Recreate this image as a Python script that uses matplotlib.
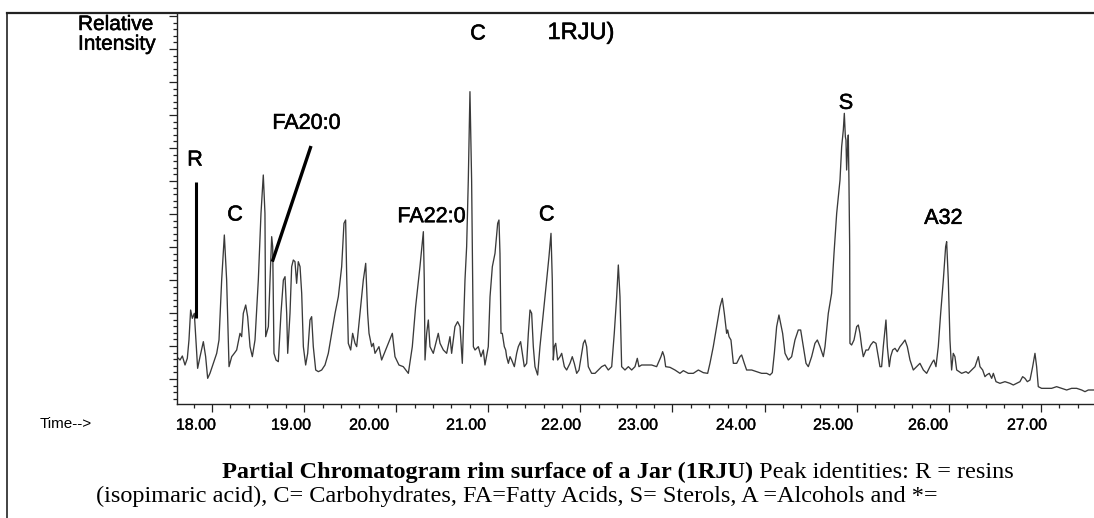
import matplotlib
matplotlib.use("Agg")
import matplotlib.pyplot as plt
import matplotlib.patheffects as pe
from matplotlib.ticker import MultipleLocator, FixedLocator
from matplotlib.lines import Line2D

plt.rcParams['font.family'] = ['Liberation Sans', 'DejaVu Sans']

# trace: retention time (min) and abundance (arbitrary units)
time_min = [
    17.616, 17.653, 17.678, 17.707, 17.732, 17.750, 17.768, 17.786, 17.808, 17.844,
    17.870, 17.906, 17.931, 17.953, 17.978, 18.014, 18.051, 18.076, 18.105, 18.134,
    18.159, 18.185, 18.214, 18.242, 18.268, 18.304, 18.322, 18.340, 18.366, 18.387,
    18.413, 18.438, 18.467, 18.503, 18.532, 18.557, 18.575, 18.583, 18.612, 18.630,
    18.648, 18.659, 18.673, 18.695, 18.720, 18.749, 18.775, 18.793, 18.811, 18.822,
    18.847, 18.865, 18.883, 18.901, 18.919, 18.937, 18.956, 18.974, 18.992, 19.017,
    19.039, 19.064, 19.082, 19.100, 19.126, 19.155, 19.191, 19.227, 19.263, 19.299,
    19.336, 19.372, 19.408, 19.433, 19.451, 19.462, 19.480, 19.506, 19.527, 19.553,
    19.571, 19.607, 19.643, 19.669, 19.690, 19.705, 19.734, 19.752, 19.770, 19.792,
    19.813, 19.842, 19.871, 19.915, 19.958, 19.987, 20.030, 20.077, 20.132, 20.175,
    20.211, 20.258, 20.295, 20.305, 20.313, 20.331, 20.349, 20.367, 20.403, 20.457,
    20.476, 20.512, 20.548, 20.584, 20.602, 20.638, 20.667, 20.693, 20.718, 20.747,
    20.765, 20.783, 20.801, 20.819, 20.838, 20.856, 20.892, 20.921, 20.946,
    20.964, 21.000, 21.019, 21.044, 21.073, 21.102, 21.116, 21.127, 21.138, 21.152,
    21.174, 21.189, 21.199, 21.218, 21.236, 21.254, 21.283, 21.308, 21.326, 21.351,
    21.370, 21.391, 21.417, 21.435, 21.453, 21.471, 21.489, 21.507, 21.536, 21.561,
    21.598, 21.634, 21.659, 21.681, 21.695, 21.706, 21.717, 21.732, 21.753, 21.779,
    21.797, 21.826, 21.851, 21.887, 21.912, 21.934, 21.960, 21.985, 22.014, 22.032,
    22.050, 22.068, 22.086, 22.122, 22.159, 22.195, 22.231, 22.267, 22.303, 22.340,
    22.368, 22.394, 22.412, 22.430, 22.448, 22.484, 22.521, 22.557, 22.593, 22.618,
    22.636, 22.665, 22.720, 22.774, 22.828, 22.875, 22.893, 22.911, 22.926, 22.973,
    23.027, 23.081, 23.118, 23.172, 23.226, 23.281, 23.335, 23.382, 23.407, 23.443,
    23.480, 23.516, 23.541, 23.563, 23.588, 23.599, 23.614, 23.635, 23.661, 23.697,
    23.733, 23.751, 23.780, 23.805, 23.860, 23.914, 23.968, 24.023, 24.059, 24.084,
    24.106, 24.131, 24.156,
    24.196, 24.222, 24.258, 24.294, 24.330, 24.366, 24.392, 24.421, 24.450, 24.475,
    24.511, 24.547, 24.573, 24.602, 24.638, 24.656, 24.692, 24.728, 24.754, 24.783,
    24.819, 24.837, 24.855, 24.866, 24.877, 24.884, 24.891, 24.902, 24.909, 24.916,
    24.924, 24.927, 24.945, 24.971, 25.000, 25.018, 25.036, 25.054, 25.072, 25.101,
    25.126, 25.152, 25.181, 25.210, 25.235, 25.253, 25.271, 25.289, 25.307, 25.318,
    25.333, 25.354, 25.369, 25.391, 25.416, 25.441, 25.470, 25.499, 25.525, 25.550,
    25.579, 25.615, 25.651, 25.687, 25.724, 25.760, 25.796, 25.825, 25.839, 25.861,
    25.886, 25.912, 25.941, 25.966, 25.977, 25.995, 26.013, 26.031, 26.049, 26.067,
    26.086, 26.140, 26.187, 26.212, 26.248, 26.285, 26.321, 26.339, 26.368, 26.393,
    26.411, 26.440, 26.466, 26.484, 26.513, 26.556, 26.610, 26.665, 26.701, 26.737,
    26.773, 26.802, 26.827, 26.853, 26.882, 26.911, 26.936, 26.954, 26.972, 27.008,
    27.063, 27.117, 27.171, 27.226, 27.280, 27.334, 27.389, 27.443, 27.479, 27.515,
    27.577,
]
abundance = [
    142, 132, 144, 117, 137, 192, 282, 257, 272, 107,
    142, 187, 142, 77, 92, 122, 152, 192, 372, 507,
    372, 112, 142, 152, 162, 212, 202, 272, 297, 262,
    172, 142, 192, 372, 572, 687, 572, 202, 232, 372,
    502, 472, 152, 132, 127, 272, 372, 382, 272, 152,
    272, 412, 432, 427, 362, 427, 412, 332, 172, 117,
    152, 252, 262, 172, 102, 97, 102, 117, 152, 212,
    272, 322, 412, 542, 552, 392, 182, 162, 212, 182,
    172, 272, 372, 422, 272, 212, 172, 182, 152, 162,
    172, 132, 152, 182, 212, 142, 117, 112, 92, 172,
    292, 412, 517, 372, 132, 212, 252, 172, 152, 212,
    182, 162, 152, 202, 152, 232, 247, 232, 122, 372,
    472, 672, 937, 672, 172, 162, 172, 142, 162,
    117, 172, 322, 412, 452, 542, 552, 452, 212, 212,
    172, 162, 142, 122, 142, 132, 112, 152, 172, 187,
    152, 112, 122, 212, 282, 272, 172, 112, 87, 172,
    272, 372, 442, 512, 372, 132, 172, 182, 132, 142,
    152, 112, 102, 122, 142, 122, 92, 102, 152, 182,
    192, 172, 112, 92, 92, 102, 112, 117, 102, 112,
    212, 322, 417, 322, 112, 102, 112, 102, 112, 137,
    112, 117, 117, 117, 112, 142, 157, 142, 112, 110,
    102, 92, 100, 92, 92, 102, 94, 92, 122, 172,
    232, 292, 317, 272, 212, 222, 202, 192, 122, 122,
    142, 147, 122, 102, 102, 97, 92, 92, 87, 94,
    152, 232, 267,
    212, 152, 132, 142, 192, 222, 222, 172, 122, 112,
    142, 182, 192, 172, 142, 172, 272, 332, 452, 572,
    672, 772, 822, 872, 802, 792, 702, 772, 807, 672,
    472, 182, 177, 192, 232, 237, 212, 172, 142, 162,
    162, 177, 187, 182, 142, 112, 112, 172, 222, 252,
    172, 112, 142, 162, 167, 157, 172, 182, 192, 172,
    132, 102, 112, 122, 102, 92, 112, 127, 132, 112,
    172, 272, 372, 472, 487, 372, 192, 102, 152, 142,
    102, 92, 97, 92, 102, 112, 142, 112, 102, 82,
    87, 92, 77, 92, 67, 62, 67, 62, 57, 62,
    67, 82, 77, 67, 72, 112, 152, 112, 52, 47,
    47, 47, 52, 47, 42, 47, 47, 42, 37, 42,
    42,
]
assert len(time_min) == len(abundance)

major_ticks = [18, 19, 20, 21, 22, 23, 24, 25, 26, 27]
tick_labels = ["18.00", "19.00", "20.00", "21.00", "22.00",
               "23.00", "24.00", "25.00", "26.00", "27.00"]
# the printed labels do not sit exactly under their ticks on the scan
tick_label_pos = [17.826, 18.858, 19.705, 20.758, 21.789,
                  22.625, 23.689, 24.743, 25.774, 26.849]

peak_names = ["R", "C", "FA20:0", "FA22:0", "C", "C", "S", "A32"]
peak_label_t = [17.815, 18.250, 19.028, 20.385, 20.888, 21.634, 24.884, 25.941]
peak_label_y = [732, 567, 842, 562, 1110, 567, 902, 557]

r_marker_t = [17.822, 17.822]
r_marker_y = [257, 667]
fa20_leader_t = [19.075, 18.655]
fa20_leader_y = [774, 427]

W, H = 1094, 518
heavy = [pe.withStroke(linewidth=0.4, foreground='black')]
light = [pe.withStroke(linewidth=0.25, foreground='black')]

fig = plt.figure(figsize=(W / 100, H / 100), dpi=100)
ax = fig.add_axes([177 / W, 1 - 404 / H, 1 - 177 / W, (404 - 12.5) / H])

ax.plot(time_min, abundance, color='#3a3a3a', lw=0.95)
ax.plot(r_marker_t, r_marker_y, color='black', lw=2.2, solid_capstyle='butt')
ax.plot(fa20_leader_t, fa20_leader_y, color='black', lw=2.4, solid_capstyle='butt')

ax.set_xlim(17.62, 27.577)
ax.set_ylim(0, 1174.5)

ax.xaxis.set_major_locator(FixedLocator(major_ticks))
ax.xaxis.set_minor_locator(MultipleLocator(0.2))
ax.yaxis.set_major_locator(MultipleLocator(99, offset=75))
ax.yaxis.set_minor_locator(MultipleLocator(19.8, offset=15.6))
ax.tick_params(which='both', direction='out', width=0.9, color='#222',
               labelbottom=False, labelleft=False)
ax.tick_params(which='major', length=6)
ax.tick_params(which='minor', length=3)
for s in ['top', 'right']:
    ax.spines[s].set_visible(False)
for s in ['left', 'bottom']:
    ax.spines[s].set_linewidth(1.0)
    ax.spines[s].set_color('#222')

for pos, lab in zip(tick_label_pos, tick_labels):
    ax.text(pos, -0.054, lab, transform=ax.get_xaxis_transform(),
            ha='center', va='center', fontsize=11.5, path_effects=light)

for name, t, y in zip(peak_names, peak_label_t, peak_label_y):
    ax.text(t, y, name, ha='center', va='center', fontsize=15.5, path_effects=heavy)

# frame of the scanned figure
fig.add_artist(Line2D([7 / W, 1], [1 - 12.5 / H] * 2, transform=fig.transFigure,
                      color='#222', lw=1.6))
fig.add_artist(Line2D([7 / W] * 2, [0, 1 - 12.5 / H], transform=fig.transFigure,
                      color='#222', lw=1.2))

fig.text(78 / W, 1 - 15 / H, "Relative\nIntensity", ha='left', va='top',
         fontsize=15, linespacing=1.05, path_effects=heavy)
fig.text(581 / W, 1 - 33 / H, "1RJU)", ha='center', va='center', fontsize=17,
         path_effects=heavy)
fig.text(40 / W, 1 - 424 / H, "Time-->", ha='left', va='center', fontsize=11)

serif = ['Liberation Serif', 'DejaVu Serif']
cap1 = fig.text(222 / W, 1 - 478 / H, "Partial Chromatogram rim surface of a Jar (1RJU)",
                family=serif, weight='bold', fontsize=17.5, va='baseline')
fig.canvas.draw()
x_end = cap1.get_window_extent().x1 / W
fig.text(x_end, 1 - 478 / H, " Peak identities: R = resins",
         family=serif, fontsize=17.5, va='baseline')
fig.text(96 / W, 1 - 502 / H,
         "(isopimaric acid), C= Carbohydrates, FA=Fatty Acids, S= Sterols, A =Alcohols and *=",
         family=serif, fontsize=17.5, va='baseline')

fig.savefig('out.png', dpi=100)
